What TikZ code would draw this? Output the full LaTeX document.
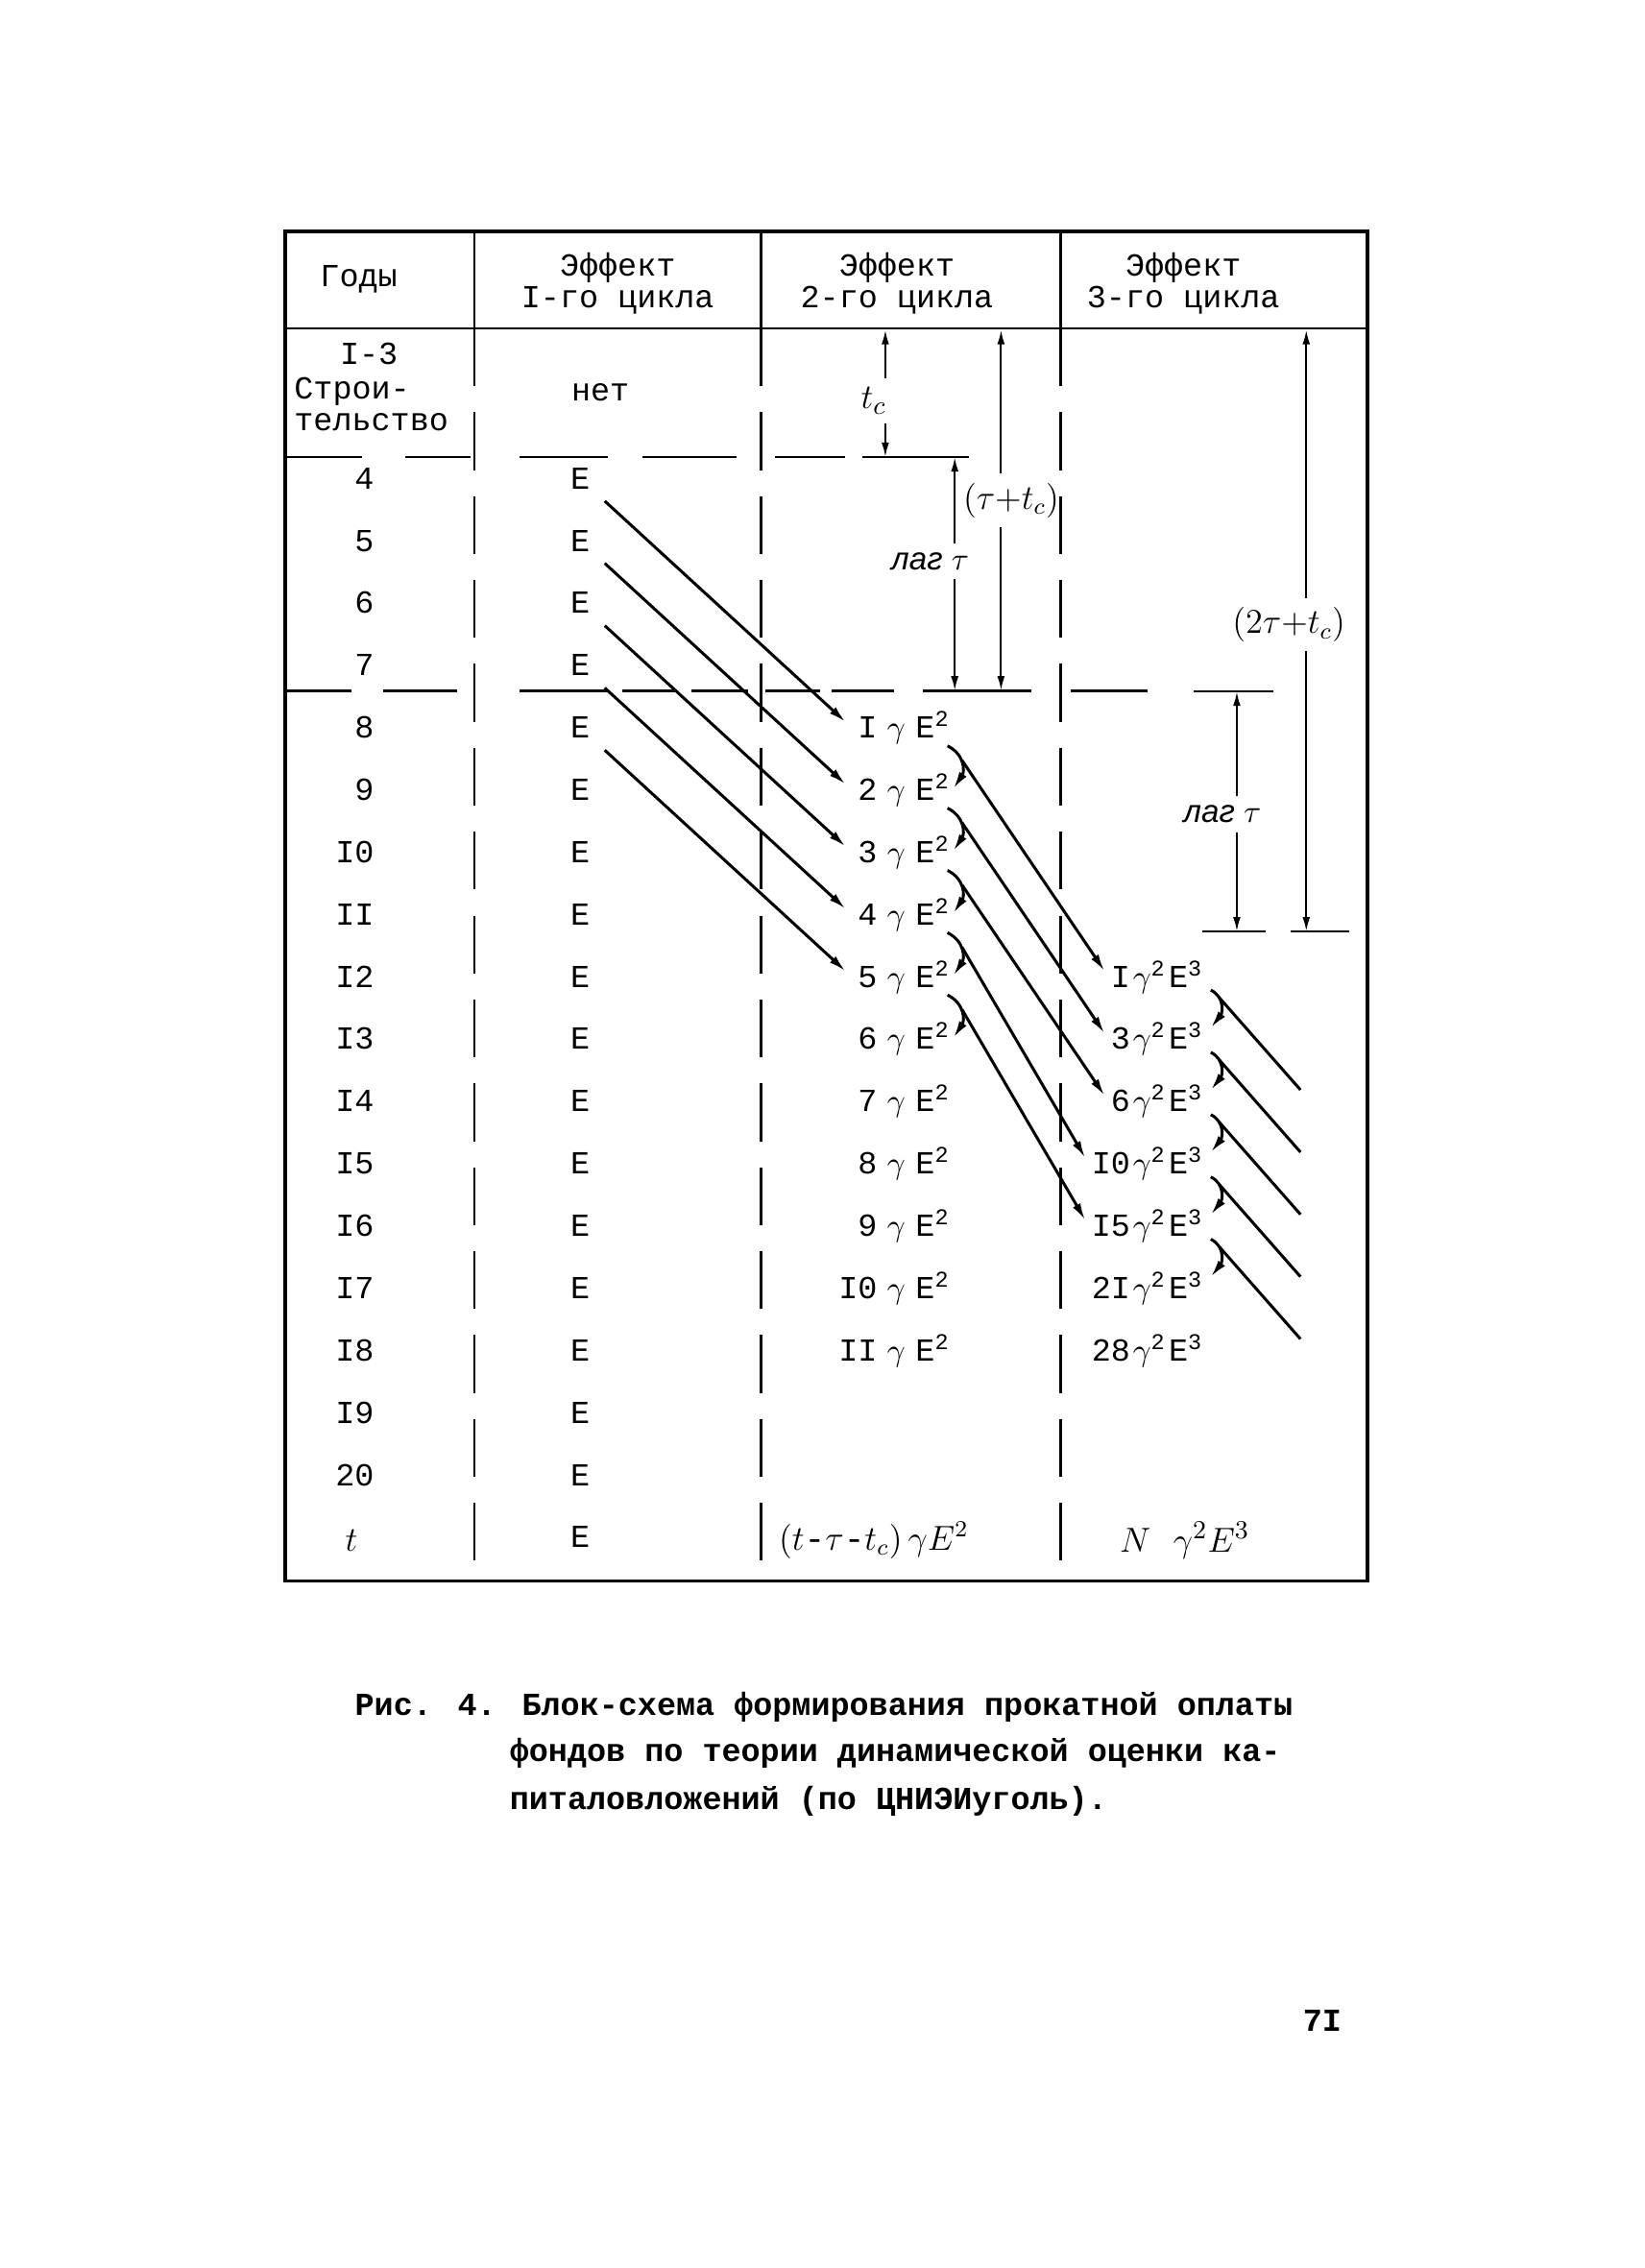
\documentclass[tikz,border=0pt]{standalone}
\usepackage{amsmath}
\usepackage{fontspec}
\setmainfont{Liberation Mono}
\newfontfamily\handfont{Liberation Sans}
\usetikzlibrary{arrows.meta, calc}
\newcommand{\tw}{\fontsize{11.1}{11}\selectfont}
\newcommand{\gam}{\makebox[13.3pt][c]{$\gamma$}}
\newcommand{\gamsq}{\makebox[13.3pt][c]{$\gamma$\textsuperscript{2}}}
\tikzset{
	cell/.style={inner sep=2pt, text height=7pt, text depth=2pt, font=\tw},
	head/.style={inner sep=2pt, align=center, font=\tw},
	capt/.style={inner sep=2pt, font=\tw\bfseries},
	hand/.style={inner sep=3pt, font=\handfont\itshape\fontsize{11}{11}\selectfont},
	mathlab/.style={inner sep=3pt, font=\fontsize{12}{12}\selectfont},
	frame/.style={line width=1.3pt},
	rule/.style={line width=0.9pt},
	vbar/.style={line width=0.9pt, dash pattern=on 20pt off 9pt},
	dim/.style={draw, line width=0.7pt, -{Latex[length=5pt,width=2.6pt]}},
	line/.style={draw, line width=1pt, -{Latex[length=6pt,width=3pt]}},
	plain/.style={draw, line width=1pt}
}

\begin{document}
\begin{tikzpicture}[x=0.5pt, y=0.5pt]
	\path[fill=white] (0,0) rectangle (1137,-1568);
	% Table frame
	\draw[frame] (197,-160) rectangle (945,-1093);
	\draw[rule] (197,-227) -- (945,-227);
	\foreach \x in {328,526,733}
	\draw[rule] (\x,-160) -- (\x,-227);
	\foreach \x in {328,526,733}
	\draw[vbar] (\x,-227) -- (\x,-1093);
	% Broken rules between the periods
	\foreach \a/\b in {197/250,280/325,359/420,444/509,536/584}
	\draw[rule] (\a,-316) -- (\b,-316);
	\foreach \a/\b in {197/243,265/316,359/420,430/468,478/517,529/567,575/618,740/793}
	\draw[rule] (\a,-477.5) -- (\b,-477.5);
	\draw[rule] (596,-316) -- (670,-316);
	\draw[rule] (638,-477.5) -- (713,-477.5);
	\draw[rule] (825,-478) -- (880,-478);
	\draw[rule] (831,-644) -- (875,-644);
	\draw[rule] (892,-644) -- (933,-644);
	
	% Header
	\node[cell] (T-0) at (248,-193) {Годы};
	\node[head] (T-1) at (427,-196) {Эффект\\I-го цикла};
	\node[head] (T-2) at (620,-196) {Эффект\\2-го цикла};
	\node[head] (T-3) at (818,-196) {Эффект\\3-го цикла};
	
	% Construction
	\node[cell] (S-1) at (255,-247) {I-3};
	\node[cell, anchor=west] (S-2) at (199,-271) {Строи-};
	\node[cell, anchor=west] (S-3) at (199,-293) {тельство};
	\node[cell] (S-4) at (415,-272) {нет};
	
	% Years and first cycle
	\foreach \k/\yr in {4/4,5/5,6/6,7/7,8/8,9/9,10/I0,11/II,12/I2,13/I3,14/I4,15/I5,16/I6,17/I7,18/I8,19/I9,20/20} {
		\pgfmathsetmacro\y{-(333+43.06*(\k-4))}
		\node[cell, anchor=east] (Y-\k) at (263,\y) {\yr};
		\node[cell] (E-\k) at (401,\y) {E};
	}
	\node[mathlab, font=\fontsize{13}{13}\selectfont] (Y-21) at (243,-1065) {$t$};
	\node[cell] (E-21) at (401,-1065) {E};
	
	% Second cycle
	\foreach \k/\n in {8/I,9/2,10/3,11/4,12/5,13/6,14/7,15/8,16/9,17/I0,18/II} {
		\pgfmathsetmacro\y{-(333+43.06*(\k-4))}
		\node[cell, anchor=east] (G-\k) at (661,\y) {\n\gam E\textsuperscript{2}};
	}
	\node[mathlab] (G-21) at (604,-1065) {$(t\text{-}\tau\text{-}t_c)\,\gamma E^{2}$};
	
	% Third cycle
	\foreach \k/\n in {12/I,13/3,14/6,15/I0,16/I5,17/2I,18/28} {
		\pgfmathsetmacro\y{-(333+43.06*(\k-4))}
		\node[cell, anchor=east] (H-\k) at (836,\y) {\n\gamsq E\textsuperscript{3}};
	}
	\node[mathlab, font=\fontsize{13}{13}\selectfont] (H-21) at (819,-1065) {$N\ \gamma^{2}E^{3}$};
	
	% Connections
	\foreach \k in {4,...,8} {
		\pgfmathtruncatemacro\n{\k+4}
		\draw[line] ([xshift=3pt]E-\k.south east) -- ([xshift=-2pt,yshift=3pt]G-\n.west);
	}
	\foreach \k in {8,...,12} {
		\pgfmathtruncatemacro\n{\k+1}
		\pgfmathtruncatemacro\m{\k+4}
		\draw[line] ([xshift=-3pt,yshift=1.5pt]G-\k.south east) .. controls +(12,-6) and +(8,12) .. ([xshift=-1pt,yshift=1.5pt]G-\n.east);
		\draw[line] ([xshift=2pt,yshift=-3.5pt]G-\k.south east) -- ([yshift=3pt]H-\m.west);
	}
	\foreach \k in {12,...,16} {
		\pgfmathtruncatemacro\n{\k+1}
		\draw[line] ([xshift=0.5pt,yshift=-3.5pt]H-\k.east) .. controls +(10,-5) and +(8,10) .. ([xshift=0.5pt,yshift=5pt]H-\n.east);
		\coordinate (Q-\k) at ($(H-\k.east)+(63,-76)$);
		\draw[plain] ([xshift=3.5pt,yshift=0.5pt]H-\k.south east) -- (Q-\k);
	}
	
	% Time spans
	\node[mathlab, font=\fontsize{13}{13}\selectfont] (D-1) at (604,-277) {$t_c$};
	\coordinate (D-1a) at (612,-228);
	\coordinate (D-1b) at (612,-316);
	\draw[dim] (D-1a |- D-1.north) -- (D-1a);
	\draw[dim] (D-1a |- D-1.south) -- (D-1b);
	
	\node[mathlab] (D-2) at (699,-346) {$(\tau{+}t_c)$};
	\coordinate (D-2a) at (692,-228);
	\coordinate (D-2b) at (692,-477.5);
	\draw[dim] (D-2a |- D-2.north) -- (D-2a);
	\draw[dim] (D-2a |- D-2.south) -- (D-2b);
	
	\node[hand] (D-3) at (643,-388) {лаг $\tau$};
	\coordinate (D-3a) at (660,-316);
	\coordinate (D-3b) at (660,-477.5);
	\draw[dim] (D-3a |- D-3.north) -- (D-3a);
	\draw[dim] (D-3a |- D-3.south) -- (D-3b);
	
	\node[mathlab] (D-4) at (891,-432) {$(2\tau{+}t_c)$};
	\coordinate (D-4a) at (903,-228);
	\coordinate (D-4b) at (903,-644);
	\draw[dim] (D-4a |- D-4.north) -- (D-4a);
	\draw[dim] (D-4a |- D-4.south) -- (D-4b);
	
	\node[hand] (D-5) at (845,-563) {лаг $\tau$};
	\coordinate (D-5a) at (855,-478);
	\coordinate (D-5b) at (855,-644);
	\draw[dim] (D-5a |- D-5.north) -- (D-5a);
	\draw[dim] (D-5a |- D-5.south) -- (D-5b);
	
	% Caption
	\node[capt, anchor=west] (C-1) at (241,-1180) {Рис. 4. Блок-схема формирования прокатной оплаты};
	\node[capt, anchor=west] (C-2) at (348,-1212) {фондов по теории динамической оценки ка-};
	\node[capt, anchor=west] (C-3) at (348,-1245) {питаловложений (по ЦНИЭИуголь).};
	\node[capt] (P-1) at (914,-1397) {7I};
\end{tikzpicture}
\end{document}
